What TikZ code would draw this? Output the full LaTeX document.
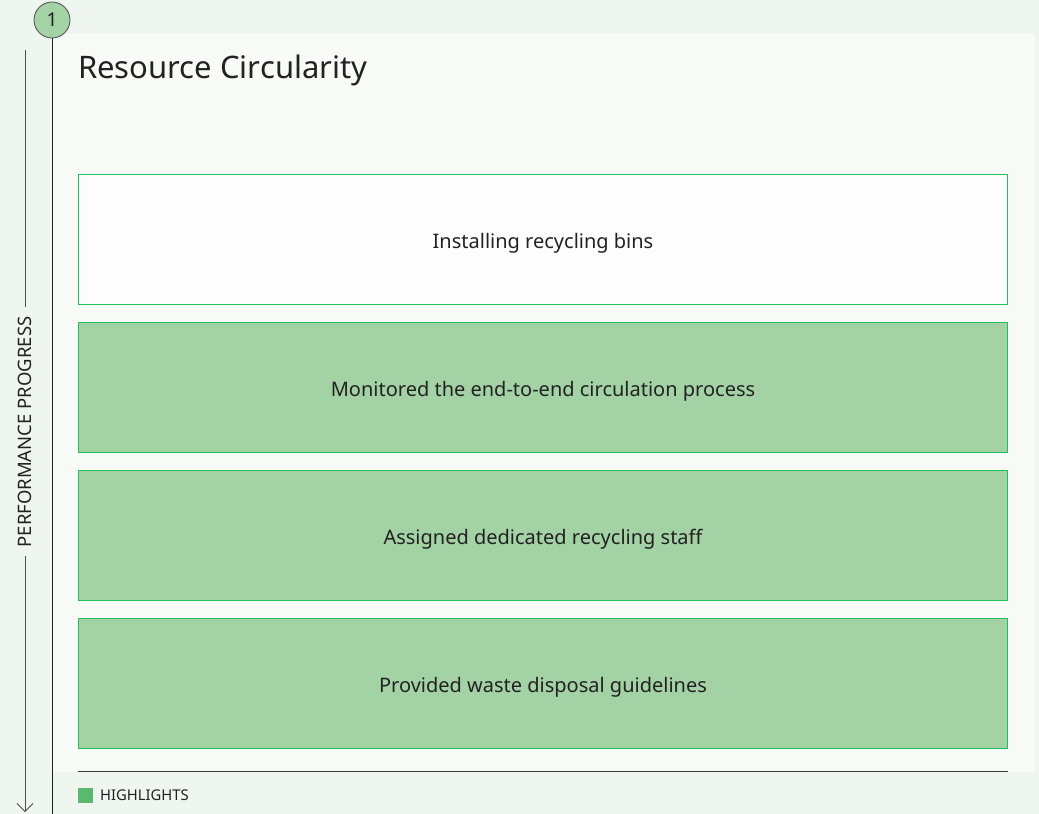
\documentclass[tikz,border=0pt]{standalone}
\usepackage{fontspec}
\setmainfont{Noto Sans}
\usetikzlibrary{arrows.meta}
\definecolor{bgout}{HTML}{EFF5EF}
\definecolor{bgin}{HTML}{F7FAF7}
\definecolor{boxfill}{HTML}{A3D2A5}
\definecolor{boxline}{HTML}{22C05C}
\definecolor{legfill}{HTML}{5BB96F}
\definecolor{txt}{HTML}{222222}
\tikzset{
  stepbox/.style={draw=boxline, line width=1pt, minimum width=929pt, minimum height=130pt, anchor=north west, inner sep=0pt, text height=18pt, text depth=0pt, font=\fontsize{20}{24}\selectfont, text=txt},
  hl/.style={stepbox, fill=boxfill},
  plain/.style={stepbox, fill=white!60!bgin},
  axisline/.style={txt!80, line width=0.8pt},
}
\begin{document}
\begin{tikzpicture}[x=1pt,y=-1pt]
\useasboundingbox (0,0) rectangle (1039,814);
\fill[bgout] (0,0) rectangle (1039,814);
\fill[bgin] (53,34) rectangle (1035,772);
% title
\node[anchor=base west, inner sep=0pt, font=\fontsize{31}{36}\selectfont, text=txt] (title) at (78,78) {Resource Circularity};
% boxes
\node[plain] (b1) at (78,174) {Installing recycling bins};
\node[hl] (b2) at (78,322) {Monitored the end-to-end circulation process};
\node[hl] (b3) at (78,470) {Assigned dedicated recycling staff};
\node[hl] (b4) at (78,618) {Provided waste disposal guidelines};
% timeline
\node[circle, draw=txt!80, fill=boxfill, line width=0.8pt, minimum size=36pt, inner sep=0pt, font=\fontsize{19}{20}\selectfont, text=txt] (c1) at (52,20) {1};
\coordinate (tlend) at (52,814);
\draw[txt, line width=0.9pt] (c1.south) -- (tlend);
% performance progress axis
\node[rotate=90, font=\fontsize{18.5}{20}\selectfont, text=txt, inner sep=0pt] (pp) at (25,432) {PERFORMANCE PROGRESS};
\coordinate (axtop) at (25,50);
\coordinate (gaptop) at (25,307);
\coordinate (gapbot) at (25,556);
\coordinate (axbot) at (25,812);
\draw[axisline] (axtop) -- (gaptop);
\draw[axisline, -{Straight Barb[length=8pt,width=16pt]}] (gapbot) -- (axbot);
% bottom rule and legend
\coordinate (rl) at (78,771);
\coordinate (rr) at (1008,771);
\draw[txt!90, line width=1pt] (rl) -- (rr);
\node[fill=legfill, minimum size=15pt, inner sep=0pt, anchor=north west] (leg) at (78,788) {};
\node[anchor=west, inner sep=0pt, font=\fontsize{14.8}{16}\selectfont, text=txt] (legt) at (100,795.5) {HIGHLIGHTS};
\end{tikzpicture}
\end{document}
